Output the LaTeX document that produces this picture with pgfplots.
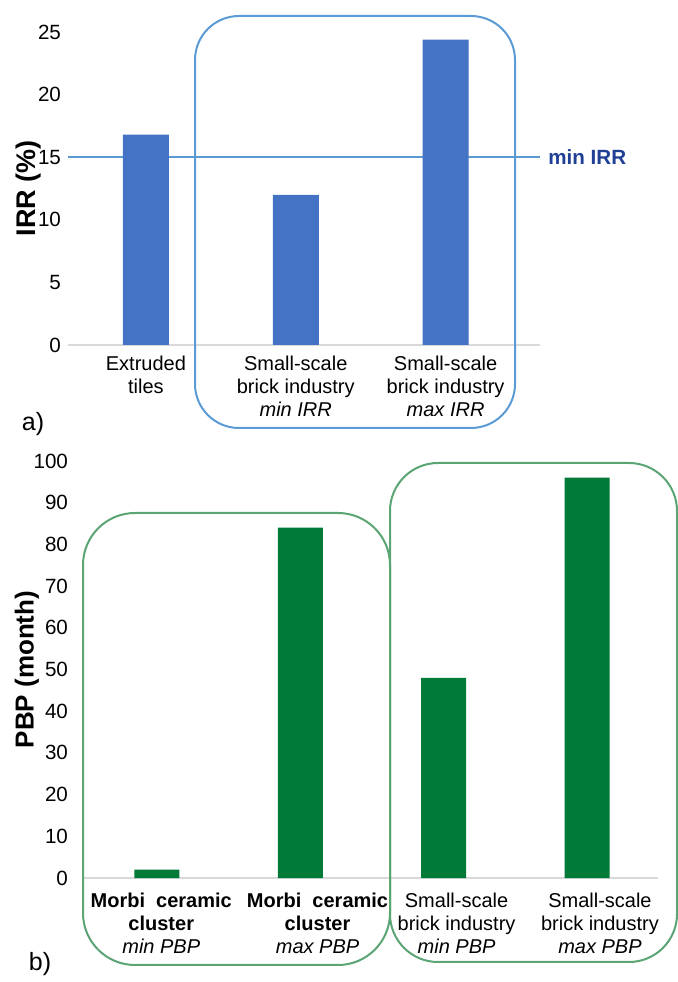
\documentclass[border=0pt]{standalone}
\usepackage{fontspec}
\setmainfont{Liberation Sans}
\usepackage{pgfplots}
\pgfplotsset{compat=1.18}
\definecolor{barblue}{RGB}{68,114,196}
\definecolor{lineblue}{RGB}{91,155,213}
\definecolor{txtblue}{RGB}{32,64,150}
\definecolor{bargreen}{RGB}{0,122,55}
\definecolor{boxgreen}{RGB}{90,165,115}
\definecolor{axgray}{RGB}{217,217,217}
\begin{document}
\begin{tikzpicture}
\useasboundingbox (0,0) rectangle (339pt,491pt);
\pgfplotsset{
 mystyle/.style={
  scale only axis,
  anchor=south west,
  axis x line*=bottom,
  axis y line*=left,
  x axis line style={draw=axgray, line width=0.6pt},
  y axis line style={draw=none},
  tick style={draw=none},
  major tick length=0pt,
  ymin=0,
  /pgf/number format/assume math mode=true,
  ticklabel style={font=\fontsize{10.3}{12}\selectfont},
  xticklabel style={align=center, font=\fontsize{10}{11.5}\selectfont, anchor=north},
  clip=false,
 }
}
% ---------- panel a ----------
\begin{axis}[mystyle, at={(34pt,318.5pt)}, width=236pt, height=156.5pt,
  xmin=-0.52, xmax=2.63, ymax=25, ytick={0,5,...,25},
  xtick={0,1,2},
  xticklabels={{Extruded\\tiles},{Small-scale\\brick industry\\\textit{min IRR}},{Small-scale\\brick industry\\\textit{max IRR}}},
  xticklabel style={yshift=-2pt},
  every axis y label/.style={at={(axis description cs:-0.0847,0.5)}, rotate=90, anchor=center, font=\bfseries\fontsize{13.5}{15}\selectfont},
  ylabel={IRR (\%)}]
\addplot[lineblue, line width=0.8pt, sharp plot] coordinates {(-0.52,15) (2.63,15)};
\addplot[ybar, bar width=23pt, fill=barblue, draw=none] coordinates {(0,16.8) (1,12) (2,24.4)};
\node[anchor=west, text=txtblue, font=\bfseries\fontsize{10.3}{12}\selectfont, inner sep=0pt, xshift=4pt] at (axis cs:2.63,15) {min IRR};
\end{axis}
% ---------- panel b ----------
\begin{axis}[mystyle, at={(41.5pt,52pt)}, width=287.5pt, height=208.5pt,
  xmin=-0.516, xmax=3.495, ymax=100, ytick={0,10,...,100},
  yticklabel style={xshift=-4pt},
  xtick={0.03,1.12,2.09,3.09},
  xticklabels={{\textbf{Morbi\ \ ceramic}\\\textbf{cluster}\\\textit{min PBP}},{\textbf{Morbi\ \ ceramic}\\\textbf{cluster}\\\textit{max PBP}},{Small-scale\\brick industry\\\textit{min PBP}},{Small-scale\\brick industry\\\textit{max PBP}}},
  xticklabel style={yshift=-4pt},
  every axis y label/.style={at={(axis description cs:-0.0974,0.5)}, rotate=90, anchor=center, font=\bfseries\fontsize{13}{15}\selectfont},
  ylabel={PBP (month)}]
\addplot[ybar, bar width=22.5pt, fill=bargreen, draw=none] coordinates {(0,2) (1,84) (2,48) (3,96)};
\end{axis}
% ---------- grouping boxes ----------
\draw[lineblue, line width=1pt, rounded corners=22pt] (97.5pt,277pt) rectangle (257.5pt,483pt);
\draw[boxgreen, line width=1pt, rounded corners=26pt] (41.5pt,8.5pt) rectangle (195pt,234.5pt);
\draw[boxgreen, line width=1pt, rounded corners=24pt] (195pt,10pt) rectangle (338.5pt,259.5pt);
\node[font=\fontsize{12.5}{14}\selectfont] at (16.5pt,279pt) {a)};
\node[font=\fontsize{12.5}{14}\selectfont] at (20pt,9pt) {b)};
\end{tikzpicture}
\end{document}
